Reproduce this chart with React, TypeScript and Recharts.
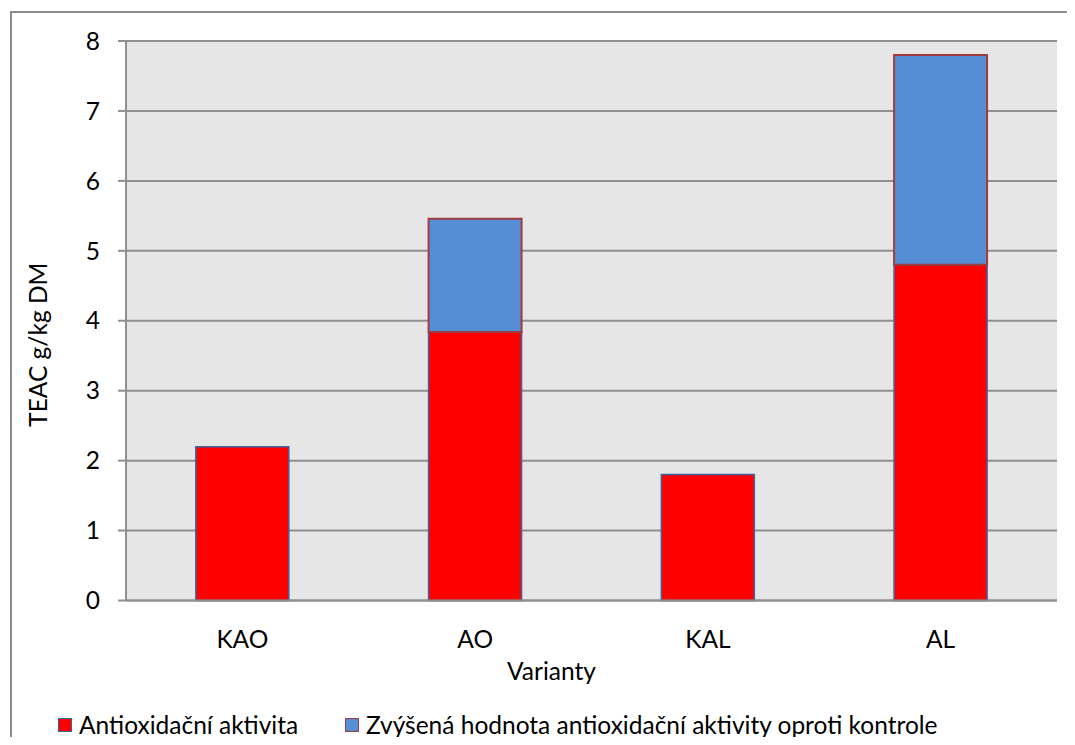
import React from 'react';
import { BarChart, Bar, XAxis, YAxis, CartesianGrid, Legend } from 'recharts';

// Antioxidant activity (TEAC g/kg DM) per variant
const categories = ['KAO', 'AO', 'KAL', 'AL'];
const baseActivity = [2.2, 3.84, 1.8, 4.8];
const increaseOverControl = [0, 1.62, 0, 3.0];
const yTicks = [0, 1, 2, 3, 4, 5, 6, 7, 8];

const SERIES_BASE = 'Antioxidační aktivita';
const SERIES_INC = 'Zvýšená hodnota antioxidační aktivity oproti kontrole';

const data = categories.map((name, i) => ({
  name,
  base: baseActivity[i],
  inc: increaseOverControl[i],
}));

const FONT = 'Lato, "Open Sans", sans-serif';
const FS = 24.5;

const YLabel = (props: any) => {
  const vb = props.viewBox || { x: 0, y: 0, width: 0, height: 0 };
  const cx = vb.x + 29;
  const cy = vb.y + vb.height / 2 + 24;
  return (
    <text
      x={cx}
      y={cy}
      transform={`rotate(-90 ${cx} ${cy})`}
      textAnchor="middle"
      dominantBaseline="central"
      fontFamily={FONT}
      fontSize={FS}
      fill="#000"
    >
      TEAC g/kg DM
    </text>
  );
};

const XLabel = (props: any) => {
  const vb = props.viewBox || { x: 0, y: 0, width: 0, height: 0 };
  const cx = vb.x + vb.width / 2 - 40;
  const cy = vb.y + 70;
  return (
    <text x={cx} y={cy} textAnchor="middle" dominantBaseline="central" fontFamily={FONT} fontSize={FS} fill="#000">
      Varianty
    </text>
  );
};

const legendOffsets = [50, 337];

const LegendContent = (props: any) => {
  const payload = props.payload || [];
  return (
    <div style={{ position: 'relative', width: 1000, height: 30 }}>
      {payload.map((entry: any, i: number) => (
        <div
          key={entry.value}
          style={{
            position: 'absolute',
            left: legendOffsets[i],
            top: 0,
            display: 'flex',
            alignItems: 'center',
            fontFamily: FONT,
            fontSize: FS,
            lineHeight: '30px',
            color: '#000',
            whiteSpace: 'nowrap',
          }}
        >
          <span
            style={{
              display: 'inline-block',
              width: 12,
              height: 12,
              background: entry.color,
              border: `1.5px solid ${entry.payload?.stroke}`,
              marginRight: 7,
            }}
          />
          {entry.value}
        </div>
      ))}
    </div>
  );
};

export default function App() {
  return (
    <div style={{ position: 'relative', width: 1059, height: 729, background: '#fff' }}>
      <div
        style={{
          position: 'absolute',
          left: 2,
          top: 3,
          width: 1057,
          height: 726,
          borderLeft: '2px solid #8c8c8c',
          borderTop: '2px solid #8c8c8c',
          boxSizing: 'border-box',
        }}
      />
      <div style={{ position: 'absolute', left: 0, top: 0 }}>
        <BarChart
          width={1059}
          height={729}
          data={data}
          margin={{ top: 33, right: 10, bottom: 76.5, left: 0 }}
          barCategoryGap="30%"
        >
          <CartesianGrid vertical={false} fill="#e6e6e6" stroke="#8f8f8f" strokeWidth={2} />
          <XAxis
            dataKey="name"
            height={60}
            axisLine={{ stroke: '#8f8f8f', strokeWidth: 2 }}
            tickLine={false}
            tickSize={0}
            tickMargin={30}
            tick={{ fontFamily: FONT, fontSize: FS, fill: '#000' }}
            label={<XLabel />}
          />
          <YAxis
            width={118}
            domain={[0, 8]}
            ticks={yTicks}
            interval={0}
            axisLine={{ stroke: '#8f8f8f', strokeWidth: 2 }}
            tickLine={{ stroke: '#8f8f8f', strokeWidth: 2 }}
            tickSize={8}
            tickMargin={18}
            tick={{ fontFamily: FONT, fontSize: FS, fill: '#000' }}
            label={<YLabel />}
          />
          <Legend
            layout="horizontal"
            verticalAlign="middle"
            align="center"
            content={<LegendContent />}
            wrapperStyle={{ position: 'absolute', left: 0, top: 702, width: 1000 }}
          />
          <Bar
            dataKey="base"
            name={SERIES_BASE}
            stackId="a"
            fill="#ff0000"
            stroke="#3b64a0"
            strokeWidth={1.5}
            isAnimationActive={false}
          />
          <Bar
            dataKey="inc"
            name={SERIES_INC}
            stackId="a"
            fill="#558ed5"
            stroke="#a03c3c"
            strokeWidth={2}
            isAnimationActive={false}
          />
        </BarChart>
      </div>
    </div>
  );
}
